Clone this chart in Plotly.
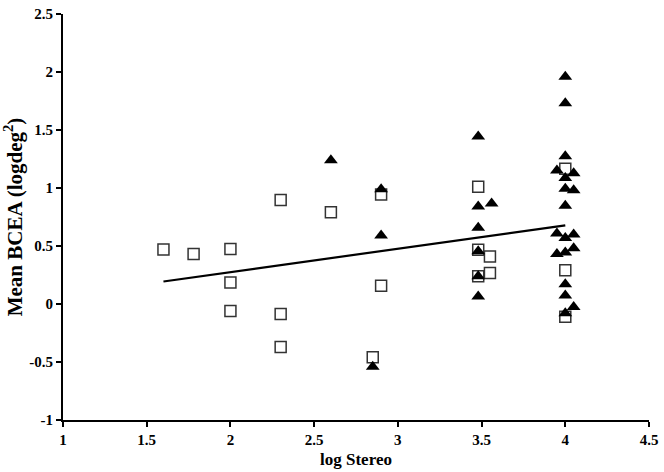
import plotly.graph_objects as go

# Open squares series
sq_x = [1.6, 1.78, 2.0, 2.0, 2.0, 2.3, 2.3, 2.3, 2.6, 2.85, 2.9, 2.9,
        3.48, 3.48, 3.48, 3.55, 3.55, 4.0, 4.0, 4.0]
sq_y = [0.47, 0.43, 0.475, 0.186, -0.06, 0.897, -0.087, -0.37, 0.79, -0.46, 0.945, 0.158,
        1.01, 0.467, 0.24, 0.41, 0.267, 1.165, 0.29, -0.11]

# Filled triangles series
tr_x = [2.6, 2.85, 2.9, 2.9,
        3.48, 3.48, 3.48, 3.48, 3.48, 3.48, 3.56,
        4.0, 4.0, 4.0, 3.95, 4.05, 4.0, 4.0, 4.05, 4.0,
        3.95, 4.0, 4.05, 3.95, 4.0, 4.05, 4.0, 4.0, 4.05, 4.0]
tr_y = [1.24, -0.54, 0.99, 0.59,
        1.445, 0.84, 0.658, 0.455, 0.24, 0.065, 0.867,
        1.96, 1.73, 1.274, 1.15, 1.128, 1.086, 0.993, 0.98, 0.846,
        0.608, 0.57, 0.60, 0.43, 0.445, 0.48, 0.17, 0.073, -0.025, -0.08]

# Trend line end points
trend_x = [1.6, 4.0]
trend_y = [0.194, 0.678]

x_ticks = [1, 1.5, 2, 2.5, 3, 3.5, 4, 4.5]
x_labels = ["1", "1.5", "2", "2.5", "3", "3.5", "4", "4.5"]
y_ticks = [-1, -0.5, 0, 0.5, 1, 1.5, 2, 2.5]
y_labels = ["-1", "-0.5", "0", "0.5", "1", "1.5", "2", "2.5"]

fig = go.Figure()
fig.add_trace(go.Scatter(
    x=trend_x, y=trend_y, mode="lines",
    line=dict(color="black", width=2.2), showlegend=False, hoverinfo="skip"))
fig.add_trace(go.Scatter(
    x=sq_x, y=sq_y, mode="markers",
    marker=dict(symbol="square-open", size=11, color="#333333", line=dict(width=1.5, color="#333333")),
    showlegend=False))
fig.add_trace(go.Scatter(
    x=tr_x, y=tr_y, mode="markers",
    marker=dict(symbol="triangle-up", size=12, color="black", line=dict(width=0)),
    showlegend=False))

font_family = "Liberation Serif, Times New Roman, serif"
fig.update_layout(
    width=664, height=472,
    margin=dict(l=63, r=11, t=6, b=51),
    paper_bgcolor="white", plot_bgcolor="white",
    font=dict(family=font_family, size=15, color="black"),
)
fig.update_xaxes(
    range=[1, 4.5], tickvals=x_ticks, ticktext=[f"<b>{t}</b>" for t in x_labels],
    showgrid=False, zeroline=False, showline=True, linecolor="black", linewidth=2,
    ticks="outside", ticklen=5, tickwidth=1.5, tickcolor="black",
    ticklabeloverflow="allow",
    tickfont=dict(family=font_family, size=15, color="black"),
    title=dict(text="<b>log Stereo</b>", font=dict(family=font_family, size=17), standoff=6),
)
fig.update_yaxes(
    range=[-1, 2.5], tickvals=y_ticks, ticktext=[f"<b>{t}</b>" for t in y_labels],
    showgrid=False, zeroline=False, showline=True, linecolor="black", linewidth=2,
    ticks="outside", ticklen=5, tickwidth=1.5, tickcolor="black",
    ticklabeloverflow="allow",
    tickfont=dict(family=font_family, size=15, color="black"),
    title=dict(text="<b>Mean BCEA (logdeg<sup>2</sup>)</b>", font=dict(family=font_family, size=21), standoff=4),
)

fig.write_html("out.html", config={"displayModeBar": False},
               post_script="document.body.style.margin='0px';")
